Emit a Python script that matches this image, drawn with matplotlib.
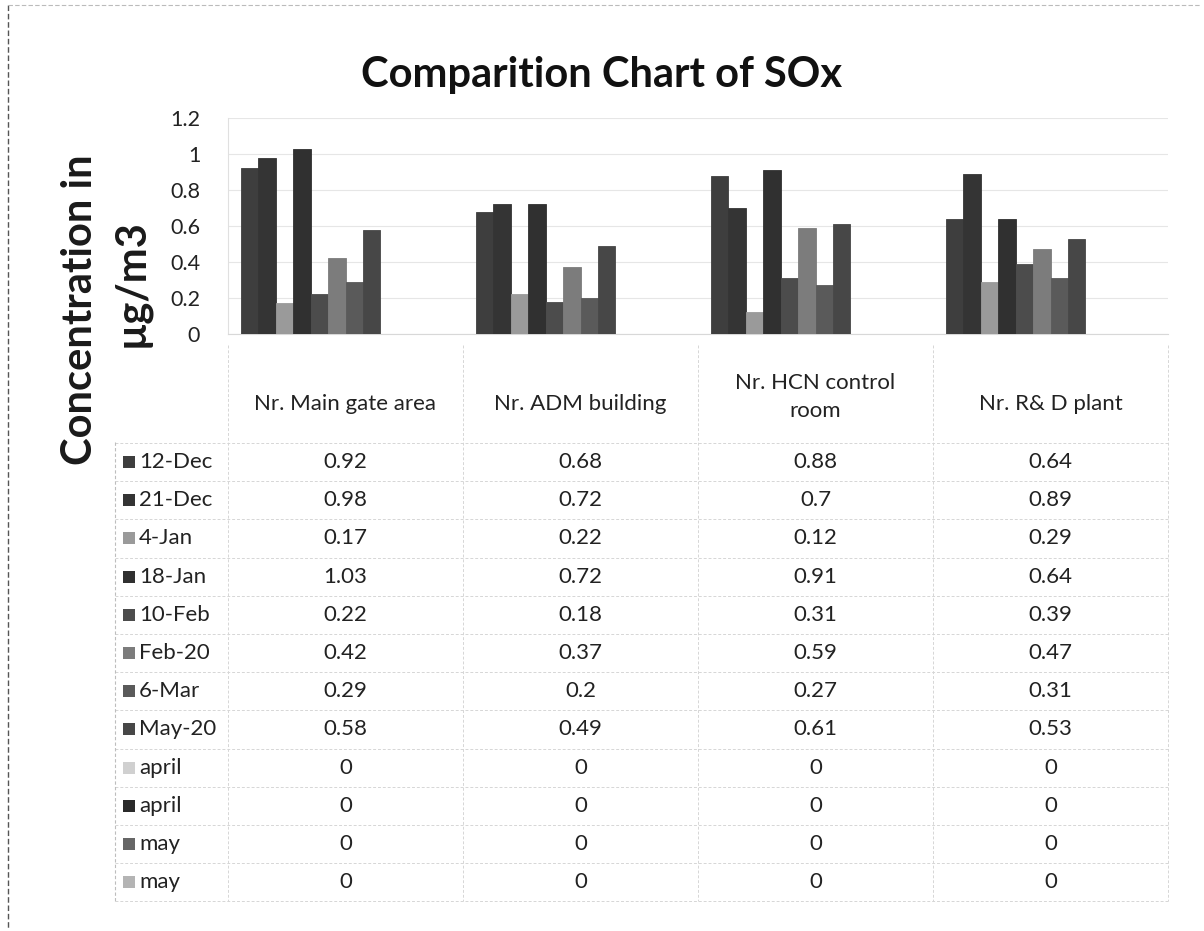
import matplotlib
matplotlib.use("Agg")
import matplotlib.pyplot as plt
from matplotlib.transforms import blended_transform_factory
from matplotlib.lines import Line2D
from matplotlib.patches import Rectangle

# ---- data -------------------------------------------------------------
sites = ["Nr. Main gate area", "Nr. ADM building", "Nr. HCN control\nroom", "Nr. R& D plant"]
dates = ["12-Dec", "21-Dec", "4-Jan", "18-Jan", "10-Feb", "Feb-20", "6-Mar",
         "May-20", "april", "april", "may", "may"]

dec12 = [0.92, 0.68, 0.88, 0.64]
dec21 = [0.98, 0.72, 0.70, 0.89]
jan04 = [0.17, 0.22, 0.12, 0.29]
jan18 = [1.03, 0.72, 0.91, 0.64]
feb10 = [0.22, 0.18, 0.31, 0.39]
feb20 = [0.42, 0.37, 0.59, 0.47]
mar06 = [0.29, 0.20, 0.27, 0.31]
may20 = [0.58, 0.49, 0.61, 0.53]
april_a = [0, 0, 0, 0]
april_b = [0, 0, 0, 0]
may_a = [0, 0, 0, 0]
may_b = [0, 0, 0, 0]

series = [dec12, dec21, jan04, jan18, feb10, feb20, mar06, may20,
          april_a, april_b, may_a, may_b]

yticks = [0, 0.2, 0.4, 0.6, 0.8, 1.0, 1.2]

colors = ["#3e3e3e", "#343434", "#9a9a9a", "#303030", "#4c4c4c", "#7c7c7c",
          "#5a5a5a", "#474747", "#d0d0d0", "#2a2a2a", "#666666", "#b4b4b4"]

# ---- figure -----------------------------------------------------------
W, H = 1204, 931
fig = plt.figure(figsize=(W / 100, H / 100), dpi=100)
fig.patch.set_facecolor("white")

font = "Lato"
txt_c = "#222222"

ax_left, ax_right = 228, 1168
ax_bottom, ax_top = 334, 118
ax = fig.add_axes([ax_left / W, 1 - ax_bottom / H,
                   (ax_right - ax_left) / W, (ax_bottom - ax_top) / H])

n = len(series)
gap = 1.5
bw = 1.0 / (n + gap)
x = list(range(len(sites)))
for i, (vals, c) in enumerate(zip(series, colors)):
    offs = [xi + (i - (n - 1) / 2) * bw for xi in x]
    ax.bar(offs, vals, width=bw, color=c, edgecolor=c, linewidth=0.6, zorder=3)

ax.set_xlim(-0.5, len(sites) - 0.5)
ax.set_ylim(0, 1.2)
ax.set_yticks(yticks)
ax.set_yticklabels([f"{t:g}" for t in yticks], fontsize=15.5, family=font,
                   color=txt_c)
ax.tick_params(axis="y", length=0, pad=20)
ax.set_xticks([])
ax.grid(axis="y", color="#e6e6e6", lw=0.8, zorder=0)
for s in ["top", "right"]:
    ax.spines[s].set_visible(False)
ax.spines["left"].set_color("#e0e0e0")
ax.spines["left"].set_linewidth(0.8)
ax.spines["bottom"].set_color("#d8d8d8")
ax.spines["bottom"].set_linewidth(0.8)

# ---- title and axis label --------------------------------------------
fig.text(0.5, 1 - 75 / H, "Comparition Chart of SOx", ha="center", va="center",
         fontsize=30, fontweight="bold", family=font, color="#111111")
fig.text(80 / W, 1 - 310 / H, "Concentration in", rotation=90, ha="center",
         va="center", fontsize=30, fontweight="bold", family=font, color="#1a1a1a")
fig.text(131 / W, 1 - 283 / H, "µg/m3", rotation=90, ha="center",
         va="center", fontsize=30, fontweight="bold", family=font, color="#1a1a1a")

# ---- data table under the plot ---------------------------------------
tr = blended_transform_factory(ax.transData, fig.transFigure)
ftr = fig.transFigure

def fy(px):
    return 1 - px / H

line_c = "#d6d6d6"
tbl_left = 115
header_top, header_bot = 345, 442
row_y0, row_dy = 462, 38.2

# header row
for xi, name in zip(x, sites):
    yy = 397 if "\n" in name else 404
    ax.text(xi, fy(yy), name, transform=tr, ha="center", va="center",
            fontsize=16, family=font, color=txt_c, linespacing=1.45)

# body rows
for r, (lab, vals, c) in enumerate(zip(dates, series, colors)):
    yc = row_y0 + r * row_dy
    fig.add_artist(Rectangle((123 / W, fy(yc + 6)), 12 / W, 12 / H,
                             transform=ftr, facecolor=c, edgecolor="none"))
    fig.text(139 / W, fy(yc), lab, ha="left", va="center", fontsize=16,
             family=font, color=txt_c)
    for xi, v in zip(x, vals):
        ax.text(xi, fy(yc), f"{v:g}", transform=tr, ha="center", va="center",
                fontsize=16, family=font, color=txt_c)

# grid lines of the table
tbl_bottom = row_y0 + (n - 0.5) * row_dy
for k in range(n + 1):
    yy = row_y0 - 0.5 * row_dy + k * row_dy
    fig.add_artist(Line2D([tbl_left / W, ax_right / W], [fy(yy), fy(yy)],
                          transform=ftr, color=line_c, lw=0.7, ls=(0, (3, 2))))
fig.add_artist(Line2D([tbl_left / W, tbl_left / W], [fy(header_bot), fy(tbl_bottom)],
                      transform=ftr, color="#bdbdbd", lw=0.8, ls=(0, (3, 2))))
for xb in [-0.5, 0.5, 1.5, 2.5, 3.5]:
    ax.add_artist(Line2D([xb, xb], [fy(header_top), fy(tbl_bottom)],
                         transform=tr, color=line_c, lw=0.7, ls=(0, (3, 2)),
                         clip_on=False))

# outer frame of the chart
fig.add_artist(Line2D([8 / W, 8 / W], [fy(5), fy(928)], transform=ftr,
                      color="#555555", lw=1.0, ls=(0, (4, 2))))
fig.add_artist(Line2D([8 / W, 1200 / W], [fy(5), fy(5)], transform=ftr,
                      color="#bbbbbb", lw=0.8, ls=(0, (4, 2))))

fig.savefig("out.png", dpi=100, facecolor="white")
